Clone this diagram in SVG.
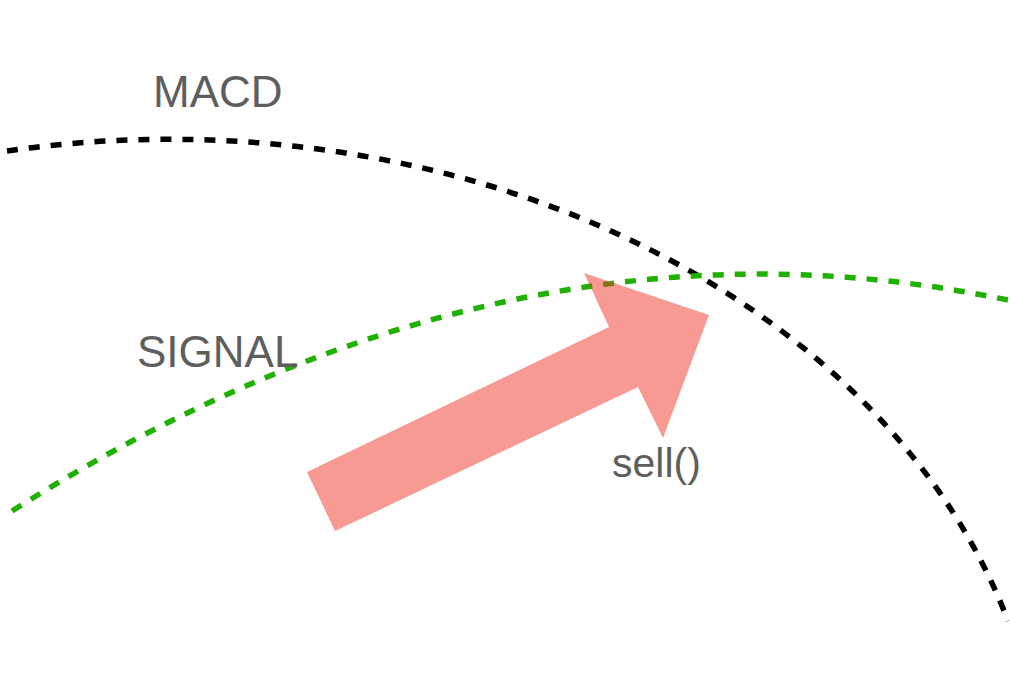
<svg xmlns="http://www.w3.org/2000/svg" width="1010" height="680" viewBox="0 0 1010 680">
  <style>
    .curve { fill: none; stroke-width: 5.5; stroke-dasharray: 11 11; }
    .lbl { font-family: "Liberation Sans", Arial, Helvetica, sans-serif; fill: #5e5e5e; }
  </style>
  <rect width="1010" height="680" fill="#ffffff"/>
  <g id="connectors">
    <path id="macd-line" class="curve" stroke="#000000" d="M 7 151 A 873 668 0 0 1 1008 621"/>
    <path id="signal-line" class="curve" stroke="#1fb000" d="M 12 511 Q 511 195 1010 300.5"/>
  </g>
  <g id="sell-arrow">
    <polygon points="307,472 609,327 584,273 709,315 663,438 638,387 335,531" fill="#ef3629" fill-opacity="0.5"/>
  </g>
  <g id="label-macd">
    <text class="lbl" x="153" y="107" font-size="44">MACD</text>
  </g>
  <g id="label-signal">
    <text class="lbl" x="137" y="367" font-size="44">SIGNAL</text>
  </g>
  <g id="label-sell">
    <text class="lbl" x="612" y="477" font-size="41">sell()</text>
  </g>
</svg>
